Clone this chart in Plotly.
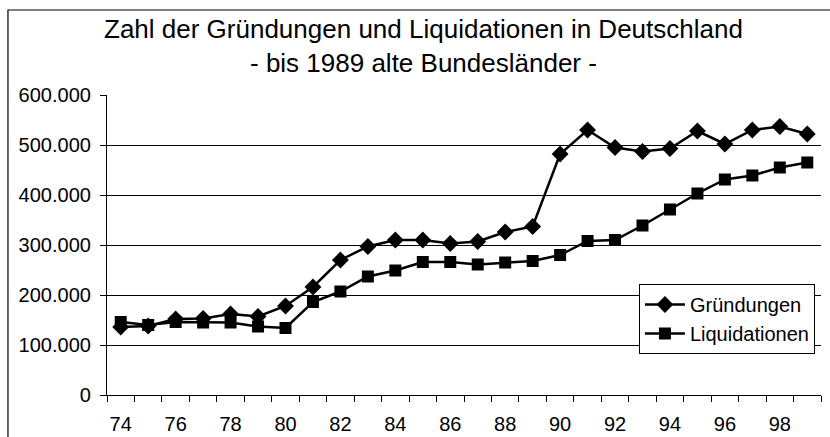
import plotly.graph_objects as go

years = list(range(74, 100))
gruendungen = [136000, 138000, 152000, 153000, 162000, 157000, 178000, 216000, 270000, 297000,
               310000, 310000, 303000, 307000, 326000, 337000, 482000, 530000, 495000, 487000,
               493000, 528000, 502000, 530000, 537000, 522000]
liquidationen = [146000, 140000, 146000, 145000, 145000, 137000, 134000, 186000, 207000, 237000,
                 249000, 266000, 266000, 261000, 265000, 268000, 280000, 308000, 310000, 339000,
                 371000, 403000, 431000, 439000, 455000, 465000]
x_tick_vals = list(range(74, 100, 2))
x_tick_text = [str(v) for v in x_tick_vals]
y_tick_vals = [0, 100000, 200000, 300000, 400000, 500000, 600000]

FONT = "Liberation Sans, Arial, sans-serif"

fig = go.Figure()
fig.add_trace(go.Scatter(
    x=years, y=gruendungen, name="Gründungen", mode="lines+markers",
    line=dict(color="black", width=2.5),
    marker=dict(symbol="diamond", size=13, color="black"),
))
fig.add_trace(go.Scatter(
    x=years, y=liquidationen, name="Liquidationen", mode="lines+markers",
    line=dict(color="black", width=2.5),
    marker=dict(symbol="square", size=12, color="black"),
))

title_x = (423 - 107) / 714

fig.update_layout(
    width=830, height=437,
    margin=dict(l=107, r=9, t=95, b=42, autoexpand=False),
    paper_bgcolor="white", plot_bgcolor="white",
    separators=",.",
    font=dict(family=FONT, color="black", size=20),
    showlegend=True,
    legend=dict(
        x=0.745, y=0.37, xanchor="left", yanchor="top",
        bgcolor="white", bordercolor="black", borderwidth=1,
        font=dict(size=20, family=FONT, color="black"),
        tracegroupgap=0, itemwidth=40,
    ),
    annotations=[
        dict(text="Zahl der Gründungen und Liquidationen in Deutschland<br>- bis 1989 alte Bundesländer -",
             xref="paper", yref="paper", x=title_x, y=(395 - 46) / 300, xanchor="center", yanchor="middle",
             align="center", showarrow=False, font=dict(size=26, family=FONT, color="black")),
    ],
    shapes=[
        dict(type="rect", xref="paper", yref="paper", x0=-0.1387, x1=1.03, y0=-0.2, y1=1.2833,
             line=dict(color="black", width=1.2), fillcolor="rgba(0,0,0,0)", layer="below"),
    ],
)

fig.update_xaxes(
    range=[73.5, 99.5], tickmode="array", tickvals=x_tick_vals, ticktext=x_tick_text,
    ticks="", showgrid=False, zeroline=False, automargin=False,
    showline=True, linecolor="black", linewidth=1.2,
    ticklabelstandoff=11,
    minor=dict(tickmode="linear", tick0=73.5, dtick=1, ticks="outside", ticklen=6,
               tickcolor="black", tickwidth=1.2, showgrid=False),
)
fig.update_yaxes(
    range=[0, 600000], tickmode="array", tickvals=y_tick_vals, tickformat=",d",
    ticks="outside", ticklen=6, tickcolor="black", tickwidth=1.2, automargin=False,
    showgrid=True, gridcolor="black", gridwidth=1, zeroline=False,
    showline=True, linecolor="black", linewidth=1.2,
    ticklabelstandoff=5,
)

fig.write_html("out.html", config={"displayModeBar": False},
               post_script="document.body.style.margin='0';")
